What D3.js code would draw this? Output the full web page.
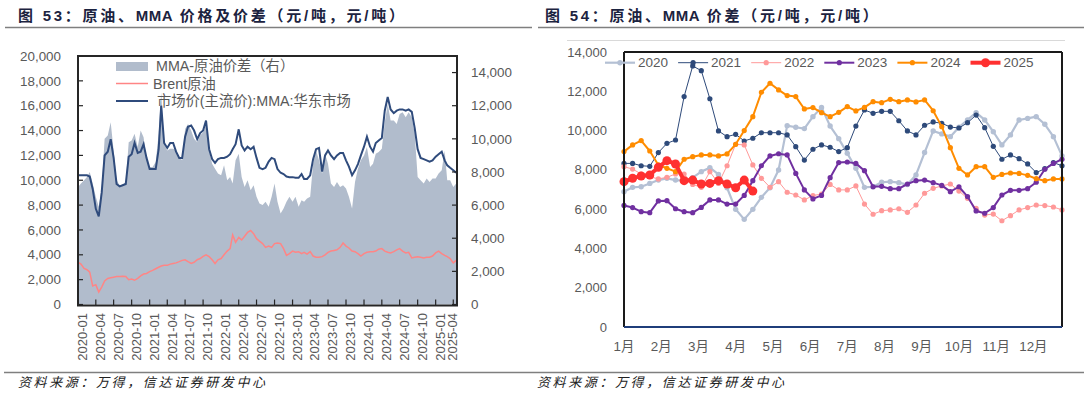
<!DOCTYPE html>
<html><head><meta charset="utf-8">
<script src="https://cdn.jsdelivr.net/npm/d3@7/dist/d3.min.js"></script>
<style>
body{margin:0;background:#fff;}
svg{display:block;}
text{font-family:"Liberation Sans",Arial,"Noto Sans CJK SC",sans-serif;}
</style>
</head><body>
<svg id="c" width="1088" height="397"></svg>
<script>
// ---------- Left chart data (semi-monthly samples from 2020-01-01) ----------
const leftStart = "2020-01-01";
const spreadMMA = [7100,7300,7500,7700,8000,7300,6500,5900,7000,10000,10200,11000,9300,7500,7200,7200,7400,9800,9900,10300,9500,10500,10100,8800,8300,8300,8600,10300,12800,9700,9300,9400,9400,9300,8900,8700,10600,10900,10500,10000,9800,10200,10400,10800,9300,8500,8200,7900,7800,8400,7500,7700,7300,8700,9100,7700,7100,7500,6900,7200,6500,6100,6000,6200,5900,6500,7300,6200,5500,5800,6200,6500,6200,6500,5900,6300,6200,6400,6500,8500,9300,8700,7900,9100,8500,7300,7100,7400,7100,7200,7000,6500,5800,7400,8200,8700,9000,9500,8300,8500,9100,9200,9400,11000,12100,11100,11100,10900,11500,11600,11300,11600,11300,10300,7700,7500,7300,7600,7400,7600,7600,7900,8100,9300,7500,7500,7100,7300];
const brentOil = [3400,3250,2900,2800,2600,1500,1600,1000,1400,1900,2100,2150,2200,2250,2250,2280,2250,2000,2050,1950,2100,2300,2450,2500,2650,2750,2880,3000,3100,3150,3150,3250,3300,3350,3450,3550,3600,3450,3300,3400,3600,3700,3870,4000,3850,3600,3300,3600,3700,4000,4300,4500,5600,5000,5400,5200,5500,5800,5950,5700,5300,5100,4900,4600,4700,4600,4900,4950,4900,4500,3950,4100,4300,4200,4250,4100,4200,4050,4250,3900,3800,3800,3850,4000,4200,4300,4350,4400,4600,4950,4700,4550,4300,4250,4100,3900,4100,4200,4250,4250,4300,4450,4500,4300,4200,4150,4250,4400,4500,4300,4150,4200,3750,3800,3850,3800,3750,3800,3800,3900,4150,4300,4100,3950,3850,3700,3350,3550];
const mmaPrice = [10400,10400,10400,10400,10300,9300,7700,7100,9000,12000,12300,13300,11800,9700,9500,9600,9700,11900,12100,13000,12200,12300,12900,11800,10900,10900,10900,12500,16000,13000,12600,13000,13000,12300,11800,11800,13500,14300,14400,14000,13300,13800,14000,14800,12500,11700,11400,11700,11800,11800,11900,12100,12500,12900,14100,12800,12400,12700,12500,12700,11800,11000,10900,11000,11500,11800,11700,10900,10600,10500,10300,10250,10250,10200,10200,10500,10100,10100,10400,11700,12500,12600,10700,12000,12400,12000,11700,12000,12200,12200,11600,11100,10400,10800,11300,12000,12700,13500,12700,12300,13000,13200,13400,15600,16700,15700,15400,15600,15700,15700,15600,15700,15500,14200,12500,11800,11700,11600,11500,11600,11900,12100,12300,11600,11200,11000,10800,10600];
const leftTicks = [0,2000,4000,6000,8000,10000,12000,14000,16000,18000,20000];
const rightTicks = [0,2000,4000,6000,8000,10000,12000,14000];
const leftLegend = ["MMA-原油价差（右）","Brent原油"," 市场价(主流价):MMA:华东市场"];

// ---------- Right chart data (weekly) ----------
const years = ["2020","2021","2022","2023","2024","2025"];
const y2020 = [6890,7110,7140,7310,7480,7570,7480,7450,7600,7910,8110,7770,7090,5990,5480,5990,6600,7090,7990,10250,10170,10100,10710,11180,10230,9590,8840,8080,7110,7140,7370,7400,7350,7250,7740,8880,9980,9830,9690,10170,10540,10910,10540,9940,9270,9780,10540,10620,10710,10320,9690,8710];
const y2021 = [8330,8330,8210,8180,8880,9350,9520,11730,13290,13050,11620,9980,9690,9810,9470,9610,9890,9890,9890,9780,9180,8500,9050,9270,9150,8930,9130,10230,11050,10880,10980,10980,10500,9980,9780,10270,10440,10370,10180,10130,10400,10790,10150,9200,8540,8760,8570,8300,7860,8060,8370,8210];
const y2022 = [8160,8040,7790,7650,7540,7620,7790,7790,7260,7110,7910,7310,8210,9300,9270,8250,7570,7110,7400,6860,6720,6470,6690,6770,7260,6980,6980,7180,6260,5740,5920,5960,6020,5840,6210,6810,7060,7180,7280,6920,6550,6040,5700,5750,5410,5670,5960,6080,6210,6180,6110,5960];
const y2023 = [6190,6080,5870,5820,6420,6430,6020,5870,5820,6090,6470,6470,6260,6260,6700,7450,8210,8710,8820,8760,7820,6980,6520,6700,7600,8370,8400,8330,7960,7140,7160,7040,7040,7280,7450,7480,7350,7210,6890,7140,6640,5910,5790,6080,6720,6960,6960,7040,7370,8030,8330,8540];
const y2024 = [8930,9270,9490,8960,8250,8080,7910,8540,8670,8760,8760,8710,8810,9300,10000,10710,11950,12410,12070,11780,11730,11100,11170,10910,10710,10930,11220,11000,11180,11470,11420,11590,11470,11560,11460,11560,11010,10200,9130,8080,7740,8160,8160,7620,7770,7840,7820,7720,7550,7450,7540,7540];
const y2025 = [7400,7570,7690,7740,8130,8470,8300,7450,7480,7280,7310,7450,7280,7090,7480,6920];
const monthLabels = ["1月","2月","3月","4月","5月","6月","7月","8月","9月","10月","11月","12月"];
const rightYTicks = [0,2000,4000,6000,8000,10000,12000,14000];

const titleL = "图 53：原油、MMA 价格及价差（元/吨，元/吨）";
const titleR = "图 54：原油、MMA 价差（元/吨，元/吨）";
const sourceText = "资料来源：万得，信达证券研发中心";

// ---------- drawing ----------
const svg = d3.select("#c");
const gray = "#595959";
const fmt = d3.format(",");

// Titles (Latin "MMA" kept tight, CJK spaced)
function drawTitle(x, str){
  const t = svg.append("text").attr("x",x).attr("y",21).attr("font-size",15).attr("font-weight","bold").attr("fill","#1c2340");
  str.split(/(MMA)/).forEach(part=>{
    t.append("tspan").attr("letter-spacing", part === "MMA" ? 0.4 : 2.75).text(part);
  });
}
drawTitle(18, titleL);
drawTitle(545, titleR);
svg.append("line").attr("x1",5).attr("x2",532).attr("y1",27.5).attr("y2",27.5).attr("stroke","#7f7f7f").attr("stroke-width",1.5);
svg.append("line").attr("x1",538).attr("x2",1084).attr("y1",27.5).attr("y2",27.5).attr("stroke","#7f7f7f").attr("stroke-width",1.5);
svg.append("line").attr("x1",4).attr("x2",1084).attr("y1",372.5).attr("y2",372.5).attr("stroke","#7f7f7f").attr("stroke-width",1.5);
[18,537].forEach(x=>{
  svg.append("text").attr("x",x).attr("y",387).attr("font-size",13).attr("font-style","italic")
    .attr("letter-spacing",2.6).attr("fill","#222").style("font-family","'Noto Sans CJK SC',sans-serif").text(sourceText);
});

// ----- Left chart -----
const L = {x0:78, x1:457, y0:56, y1:304.5};
const parse = d3.timeParse("%Y-%m-%d");
const start = parse(leftStart);
const dateAt = i => new Date(start.getFullYear(), start.getMonth() + Math.floor(i/2), (i%2) ? 16 : 1);
const xL = d3.scaleTime().domain([parse("2020-01-01"), parse("2025-04-20")]).range([L.x0, L.x1]);
const yLl = d3.scaleLinear().domain([0,20000]).range([L.y1, L.y0]);
const yLr = d3.scaleLinear().domain([0,15000]).range([L.y1, L.y0]);

const gL = svg.append("g");
gL.append("path").datum(spreadMMA)
  .attr("d", d3.area().x((d,i)=>xL(dateAt(i))).y0(yLr(0)).y1(d=>yLr(d)))
  .attr("fill","#b1bccc");
gL.append("path").datum(brentOil)
  .attr("d", d3.line().x((d,i)=>xL(dateAt(i))).y(d=>yLl(d)))
  .attr("fill","none").attr("stroke","#ff8585").attr("stroke-width",1.5);
gL.append("path").datum(mmaPrice)
  .attr("d", d3.line().x((d,i)=>xL(dateAt(i))).y(d=>yLl(d)))
  .attr("fill","none").attr("stroke","#2f4b7c").attr("stroke-width",2);

// frame
gL.append("rect").attr("x",L.x0).attr("y",L.y0).attr("width",L.x1-L.x0).attr("height",L.y1-L.y0+1)
  .attr("fill","none").attr("stroke","#262626").attr("stroke-width",2);
// axes
leftTicks.forEach(v=>{
  gL.append("line").attr("x1",L.x0).attr("x2",L.x0+5).attr("y1",yLl(v)).attr("y2",yLl(v)).attr("stroke","#262626").attr("stroke-width",1.2);
  gL.append("text").attr("x",61).attr("y",yLl(v)).attr("dy","0.35em").attr("text-anchor","end")
    .attr("font-size",13.4).attr("fill",gray).text(fmt(v));
});
rightTicks.forEach(v=>{
  gL.append("line").attr("x1",L.x1-5).attr("x2",L.x1).attr("y1",yLr(v)).attr("y2",yLr(v)).attr("stroke","#262626").attr("stroke-width",1.2);
  gL.append("text").attr("x",471).attr("y",yLr(v)).attr("dy","0.35em").attr("text-anchor","start")
    .attr("font-size",13.4).attr("fill",gray).text(fmt(v));
});
const qTicks = d3.timeMonth.every(3).range(parse("2020-01-01"), parse("2025-04-02"));
qTicks.forEach(d=>{
  const x = xL(d);
  gL.append("line").attr("x1",x).attr("x2",x).attr("y1",L.y1-5).attr("y2",L.y1+1).attr("stroke","#262626").attr("stroke-width",1.2);
  const lx = Math.min(x+4.7, 452.7);
  gL.append("text").attr("transform",`translate(${lx},313) rotate(-90)`).attr("dy","0.35em")
    .attr("text-anchor","end").attr("font-size",13).attr("fill",gray).text(d3.timeFormat("%Y-%m")(d));
});
// legend
gL.append("rect").attr("x",116).attr("y",62).attr("width",32).attr("height",9).attr("fill","#b1bccc");
gL.append("text").attr("x",156).attr("y",66).attr("dy","0.35em").attr("font-size",14.3).attr("fill",gray).text(leftLegend[0]);
gL.append("line").attr("x1",116).attr("x2",148).attr("y1",83.5).attr("y2",83.5).attr("stroke","#ff8585").attr("stroke-width",1.5);
gL.append("text").attr("x",153).attr("y",84).attr("dy","0.35em").attr("font-size",14.3).attr("fill",gray).text(leftLegend[1]);
gL.append("line").attr("x1",116).attr("x2",148).attr("y1",101).attr("y2",101).attr("stroke","#2f4b7c").attr("stroke-width",2);
gL.append("text").attr("x",153).attr("y",101).attr("dy","0.35em").attr("font-size",14.3).attr("fill",gray).style("white-space","pre").text(leftLegend[2]);

// ----- Right chart -----
const R = {x0:624, x1:1062, y0:52, y1:327};
svg.append("line").attr("x1",567).attr("x2",1065).attr("y1",40.5).attr("y2",40.5).attr("stroke","#d9d9d9").attr("stroke-width",1.2);
const xR = d3.scaleLinear().domain([0,51]).range([R.x0, R.x1]);
const yR = d3.scaleLinear().domain([0,14000]).range([R.y1, R.y0]);
const gR = svg.append("g");
rightYTicks.forEach(v=>{
  gR.append("text").attr("x",607).attr("y",yR(v)).attr("dy","0.35em").attr("text-anchor","end")
    .attr("font-size",13).attr("fill",gray).text(fmt(v));
});
monthLabels.forEach((m,k)=>{
  gR.append("text").attr("x",xR(k*52/12)).attr("y",351).attr("text-anchor","middle")
    .attr("font-size",13.4).attr("fill",gray).text(m);
});
const seriesDefs = [
  {name:years[0], data:y2020, color:"#b4c0d4", w:2.2, r:2.7},
  {name:years[1], data:y2021, color:"#2e4a7a", w:1, r:2.6},
  {name:years[2], data:y2022, color:"#ff9999", w:1, r:2.6},
  {name:years[3], data:y2023, color:"#7030a0", w:2, r:2.6},
  {name:years[4], data:y2024, color:"#ff8c00", w:2, r:2.6},
  {name:years[5], data:y2025, color:"#ff3030", w:4, r:4.5}
];
const lineR = d3.line().x((d,i)=>xR(i)).y(d=>yR(d));
seriesDefs.forEach(s=>{
  const g = gR.append("g");
  g.append("path").datum(s.data).attr("d",lineR).attr("fill","none").attr("stroke",s.color).attr("stroke-width",s.w).attr("stroke-linejoin","round");
  g.selectAll("circle").data(s.data).join("circle").attr("cx",(d,i)=>xR(i)).attr("cy",d=>yR(d)).attr("r",s.r).attr("fill",s.color);
});
// frame
gR.append("line").attr("x1",R.x0).attr("x2",R.x1).attr("y1",R.y0).attr("y2",R.y0).attr("stroke","#1a1a1a").attr("stroke-width",2);
gR.append("line").attr("x1",R.x1).attr("x2",R.x1).attr("y1",R.y0).attr("y2",R.y1).attr("stroke","#1a1a1a").attr("stroke-width",2);
gR.append("line").attr("x1",R.x0).attr("x2",R.x0).attr("y1",R.y0).attr("y2",R.y1).attr("stroke","#1a1a1a").attr("stroke-width",2);
gR.append("line").attr("x1",R.x0).attr("x2",R.x1).attr("y1",R.y1).attr("y2",R.y1).attr("stroke","#1f3d7a").attr("stroke-width",2);
// legend
seriesDefs.forEach((s,k)=>{
  const lx = 605 + k*73.1, ly = 62.7;
  gR.append("line").attr("x1",lx).attr("x2",lx+30).attr("y1",ly).attr("y2",ly).attr("stroke",s.color).attr("stroke-width",s.w);
  gR.append("circle").attr("cx",lx+15).attr("cy",ly).attr("r",s.r).attr("fill",s.color);
  gR.append("text").attr("x",lx+33).attr("y",ly).attr("dy","0.35em").attr("font-size",13.5).attr("fill",gray).text(s.name);
});
</script>
</body></html>
